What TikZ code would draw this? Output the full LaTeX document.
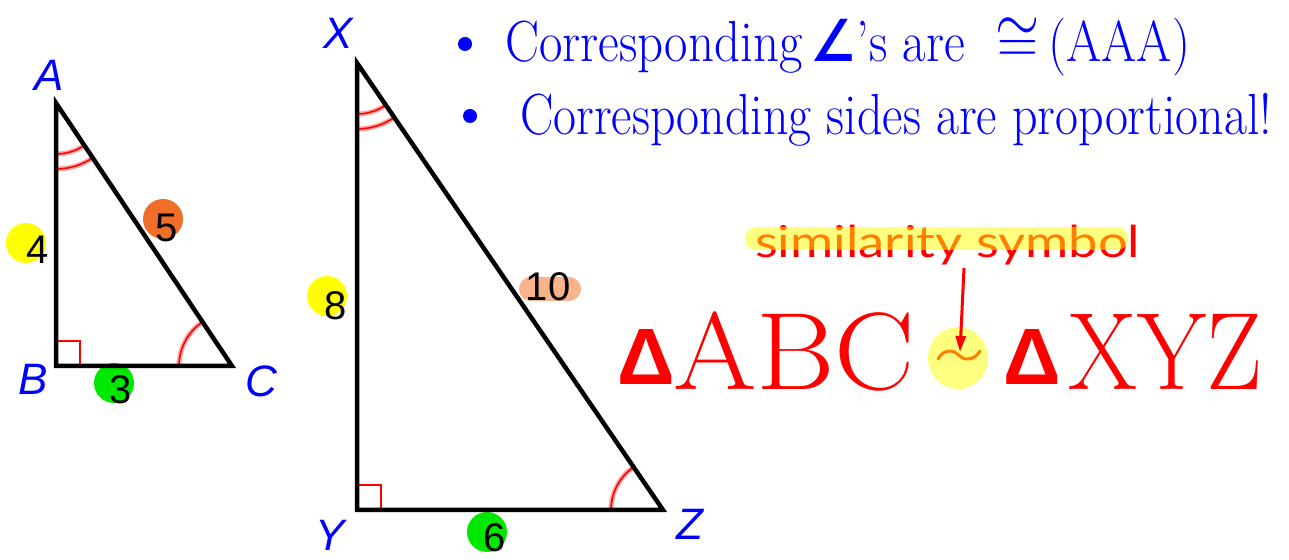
\documentclass[tikz,border=0pt]{standalone}
\usepackage{fontspec}
\newfontfamily\arialf{Liberation Sans}
\newfontfamily\latof{Lato}
\newfontfamily\dejavuf{DejaVu Sans}
\usetikzlibrary{arrows.meta,shapes.geometric}
\definecolor{lblue}{RGB}{0,0,255}
\definecolor{hlyellow}{RGB}{255,255,0}
\definecolor{dotgreen}{RGB}{0,232,0}
\definecolor{dotorange}{RGB}{240,110,40}
\definecolor{salmonc}{RGB}{250,180,140}
\definecolor{mred}{RGB}{255,0,0}
\newcommand\angarc[4]{%
  \draw[red!35, line width=5pt] (#1) ++(#2:#4) arc[start angle=#2, end angle=#3, radius=#4];
  \draw[mred, line width=1.6pt] (#1) ++(#2:#4) arc[start angle=#2, end angle=#3, radius=#4];}
\begin{document}
\begin{tikzpicture}[x=1pt,y=1pt,
  tri/.style={line width=4.5pt, line join=miter},
  vlabel/.style={text=lblue, font=\arialf\itshape\fontsize{44}{44}\selectfont, inner sep=0pt},
  numlabel/.style={text=black, font=\arialf\fontsize{40}{40}\selectfont, inner sep=0pt},
  rightmark/.style={mred, line width=1.8pt},
  dot/.style={circle, inner sep=0pt, minimum size=40pt},
  bullet/.style={circle, fill=lblue, inner sep=0pt, minimum size=14pt},
]
\useasboundingbox (0,0) rectangle (1289,559);
\fill[white] (0,0) rectangle (1289,559);

% vertices
\coordinate (A) at (56,456);
\coordinate (B) at (56,193);
\coordinate (C) at (232,193);
\coordinate (X) at (357,496);
\coordinate (Y) at (357,49);
\coordinate (Z) at (663,49);

% highlight dots behind numbers
\node[dot, fill=hlyellow] (d4) at (26,316) {};
\node[dot, fill=dotorange] (d5) at (163,340) {};
\node[dot, fill=dotgreen] (d3) at (114,176) {};
\node[dot, fill=hlyellow] (d8) at (327,263) {};
\node[rectangle, rounded corners=12pt, fill=salmonc, minimum width=62pt, minimum height=24pt, inner sep=0pt] (d10) at (550,270) {};
\node[dot, fill=dotgreen] (d6) at (487,27) {};

% angle marks
\angarc{A}{270}{303.8}{51pt}
\angarc{A}{270}{303.8}{66pt}
\angarc{C}{123.8}{180}{53pt}
\angarc{X}{270}{304.4}{51pt}
\angarc{X}{270}{304.4}{66pt}
\angarc{Z}{124.4}{180}{52pt}

% right angle marks
\draw[rightmark] ([shift={(0,25)}]B) -| ([shift={(24,0)}]B);
\draw[rightmark] ([shift={(0,25)}]Y) -| ([shift={(24,0)}]Y);

% triangles
\draw[tri] (A) -- (B) -- (C) -- cycle;
\draw[tri] (X) -- (Y) -- (Z) -- cycle;

% vertex labels
\node[vlabel] (lA) at (49,484) {A};
\node[vlabel] (lB) at (33,180) {B};
\node[vlabel] (lC) at (261,178) {C};
\node[vlabel] (lX) at (338,526) {X};
\node[vlabel] (lY) at (330,24) {Y};
\node[vlabel] (lZ) at (690,35) {Z};

% side lengths
\node[numlabel] (n4) at (38,309) {4};
\node[numlabel] (n5) at (167,331) {5};
\node[numlabel] (n3) at (121,169) {3};
\node[numlabel] (n8) at (336,253) {8};
\node[numlabel] (n10) at (548,272) {10};
\node[numlabel] (n6) at (495,21) {6};

% bullets
\node[bullet] (b1) at (465,515) {};
\node[bullet] (b2) at (470,443) {};
\node[anchor=base west, inner sep=0pt, text=lblue] (t1) at (505,497)
  {\resizebox{685pt}{\height}{\fontsize{58}{58}\selectfont Corresponding\,{\dejavuf\bfseries\itshape ∠}'s are \ \smash{\scalebox{2.6}{$\cong$}}\,(AAA)}};
\node[anchor=base west, inner sep=0pt, text=lblue] (t2) at (520,424)
  {\resizebox{752pt}{\height}{\fontsize{58}{58}\selectfont Corresponding sides are proportional!}};

% similarity statement
\node[anchor=base west, inner sep=0pt, text=mred] (d1) at (617,174) {\arialf\bfseries\fontsize{80}{80}\selectfont Δ};
\node[anchor=base west, inner sep=0pt, text=mred] (abc) at (673,169)
  {\resizebox{242pt}{\height}{\fontsize{110}{110}\selectfont ABC}};
\node[anchor=base west, inner sep=0pt, text=mred] (d2) at (1003,174) {\arialf\bfseries\fontsize{80}{80}\selectfont Δ};
\node[anchor=base west, inner sep=0pt, text=mred] (xyz) at (1068,169)
  {\resizebox{194pt}{\height}{\fontsize{110}{110}\selectfont XYZ}};
\draw[mred, line width=3pt, line cap=round] (938,200) to[out=60,in=180] (950,208) to[out=0,in=180] (967,200) to[out=0,in=240] (980,208);

\node[anchor=base west, inner sep=0pt, text=mred] (sim) at (755,301)
  {\resizebox{385pt}{\height}{\latof\fontsize{44}{44}\selectfont similarity symbol}};
\fill[hlyellow, opacity=.5, rounded corners=11pt] (745,309) rectangle (1128,332);
\node[ellipse, fill=hlyellow, opacity=.5, minimum width=60pt, minimum height=62pt, inner sep=0pt] (simblob) at (958,201) {};

\coordinate (arrS) at (964,291);
\draw[mred, line width=3pt, -{Triangle[length=16pt,width=10pt]}] (arrS) -- ([shift={(2,6)}]simblob.center);
\end{tikzpicture}
\end{document}
